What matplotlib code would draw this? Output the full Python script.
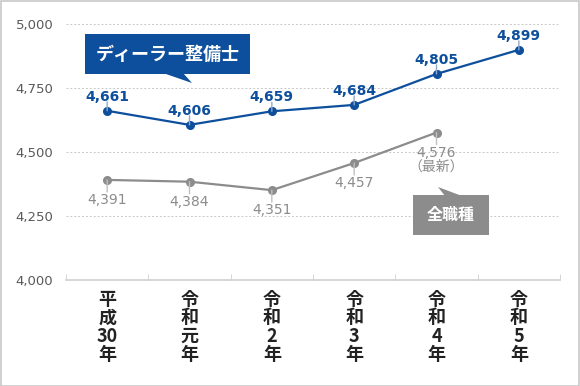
import matplotlib.pyplot as plt
from matplotlib.patches import Rectangle, Polygon

plt.rcParams['font.family'] = ['Noto Sans CJK JP', 'DejaVu Sans']
NUMFONT = ['DejaVu Sans', 'Noto Sans CJK JP']

years = ['平\n成\n30\n年', '令\n和\n元\n年', '令\n和\n2\n年', '令\n和\n3\n年', '令\n和\n4\n年', '令\n和\n5\n年']
dealer = [4661, 4606, 4659, 4684, 4805, 4899]
all_jobs = [4391, 4384, 4351, 4457, 4576]
yticks = [4000, 4250, 4500, 4750, 5000]

BLUE = '#0d4f9c'
GRAY = '#8c8c8c'

W, H = 580, 386
fig = plt.figure(figsize=(W / 100, H / 100), dpi=100)
fig.patch.set_facecolor('white')
fig.add_artist(Rectangle((0.5 / W, 0.5 / H), 1 - 1.5 / W, 1 - 1.5 / H, transform=fig.transFigure,
                         fill=False, edgecolor='#c8c8c8', linewidth=1.2))

ax = fig.add_axes([66 / W, 1 - 280 / H, (560 - 66) / W, (280 - 24) / H])
ax.set_xlim(-0.5, len(years) - 0.5)
ax.set_ylim(4000, 5000)
ax.set_yticks(yticks)
ax.set_yticklabels([f'{v:,}' for v in yticks], color='#595959', fontsize=9.5, family=NUMFONT)
ax.tick_params(axis='y', length=0, pad=9)
ax.set_xticks(range(len(years)))
ax.set_xticklabels(years, fontsize=13, fontweight='bold', color='#222222', linespacing=0.97)
ax.tick_params(axis='x', length=0, pad=7)
ax.set_xticks([i - 0.5 for i in range(len(years) + 1)], minor=True)
ax.tick_params(axis='x', which='minor', direction='in', length=4, color='#d0d0d0')
for s in ['left', 'right', 'top']:
    ax.spines[s].set_visible(False)
ax.spines['bottom'].set_color('#d0d0d0')
ax.spines['bottom'].set_linewidth(1.2)
for v in yticks[1:]:
    ax.axhline(v, color='#c8c8c8', linestyle=(0, (2, 2)), linewidth=0.7, zorder=0)

x1 = list(range(len(dealer)))
x2 = list(range(len(all_jobs)))
ax.plot(x1, dealer, color=BLUE, linewidth=1.6, marker='o', markersize=5.5, zorder=3)
ax.plot(x2, all_jobs, color=GRAY, linewidth=1.6, marker='o', markersize=5.5, zorder=3)

for x, v in zip(x1, dealer):
    ax.annotate('', (x, v), xytext=(0, 9), textcoords='offset pixels',
                arrowprops=dict(arrowstyle='-', color='#8fa9cc', lw=1, shrinkA=0, shrinkB=0))
    ax.annotate(f'{v:,}', (x, v), xytext=(0, 7), textcoords='offset pixels',
                ha='center', va='bottom', fontsize=10, fontweight='bold', color=BLUE,
                family=NUMFONT)
for x, v in zip(x2, all_jobs):
    ax.annotate('', (x, v), xytext=(0, -12), textcoords='offset pixels',
                arrowprops=dict(arrowstyle='-', color='#c0c0c0', lw=1, shrinkA=0, shrinkB=0))
    txt = f'{v:,}' + ('\n（最新）' if x == len(all_jobs) - 1 else '')
    ax.annotate(txt, (x, v), xytext=(0, -13), textcoords='offset pixels',
                ha='center', va='top', fontsize=10, color=GRAY, linespacing=1.0,
                family=NUMFONT)


def px(x, y):
    return (x / W, 1 - y / H)


# callout boxes
fig.add_artist(Rectangle(px(85, 74), 165 / W, 40 / H, transform=fig.transFigure,
                         facecolor=BLUE, edgecolor='none'))
fig.add_artist(Polygon([px(163, 73), px(183, 73), px(192, 83)], transform=fig.transFigure,
                       facecolor=BLUE, edgecolor='none'))
fig.text(167.5 / W, 1 - 54 / H, 'ディーラー整備士', ha='center', va='center',
         fontsize=13, fontweight='bold', color='white')

fig.add_artist(Rectangle(px(413, 235), 76 / W, 40 / H, transform=fig.transFigure,
                         facecolor=GRAY, edgecolor='none'))
fig.add_artist(Polygon([px(445, 196), px(462, 196), px(438, 187)], transform=fig.transFigure,
                       facecolor=GRAY, edgecolor='none'))
fig.text(451 / W, 1 - 215 / H, '全職種', ha='center', va='center',
         fontsize=11.5, fontweight='bold', color='white')

fig.savefig('out.png', dpi=100)
